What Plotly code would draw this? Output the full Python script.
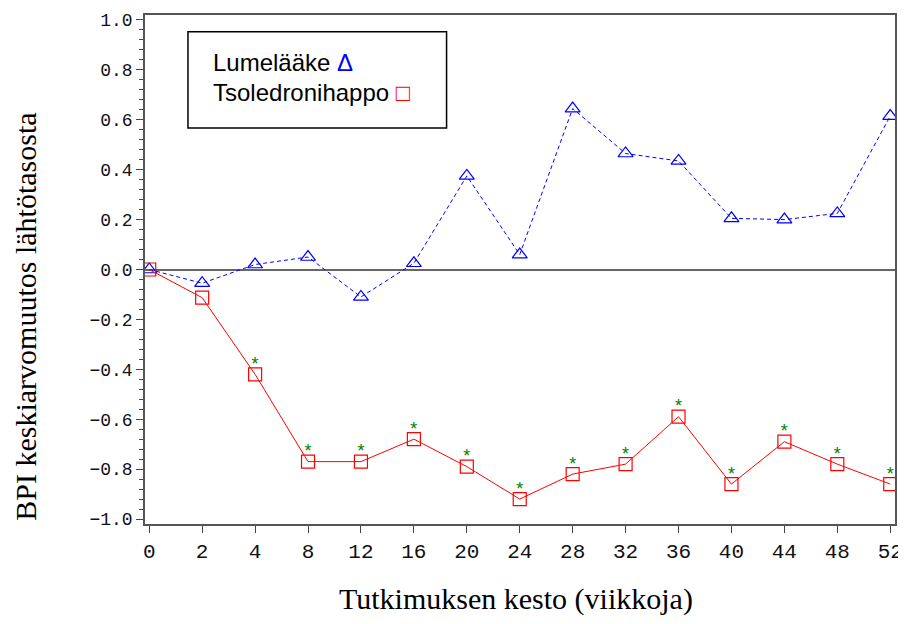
import plotly.graph_objects as go

weeks = ["0", "2", "4", "8", "12", "16", "20", "24", "28", "32", "36", "40", "44", "48", "52"]
placebo = [0.0, -0.055, 0.02, 0.05, -0.11, 0.025, 0.375, 0.06, 0.645, 0.465, 0.435, 0.205, 0.20, 0.225, 0.615]
zoledronic = [0.0, -0.113, -0.42, -0.77, -0.77, -0.68, -0.79, -0.92, -0.82, -0.78, -0.59, -0.86, -0.69, -0.78, -0.86]
significant = [False, False, True, True, True, True, True, True, True, True, True, True, True, True, True]

x_idx = list(range(len(weeks)))

fig = go.Figure()

fig.add_trace(go.Scatter(
    x=x_idx, y=placebo, mode="lines+markers", name="Lumelääke",
    line=dict(color="#0000FF", width=1, dash="4px,3px"),
    marker=dict(symbol="triangle-up-open", size=13, color="#0000FF", line=dict(width=1.2, color="#0000FF")),
))
fig.add_trace(go.Scatter(
    x=x_idx, y=zoledronic, mode="lines+markers", name="Tsoledronihappo",
    line=dict(color="#FF0000", width=1),
    marker=dict(symbol="square-open", size=13, color="#FF0000", line=dict(width=1.2, color="#FF0000")),
))
fig.add_trace(go.Scatter(
    x=[i for i, s in zip(x_idx, significant) if s],
    y=[v for v, s in zip(zoledronic, significant) if s],
    mode="text", text=["*" for s in significant if s],
    textposition="top center",
    textfont=dict(family="Liberation Sans", size=18, color="#008000"),
    hoverinfo="skip",
))

fig.update_layout(
    width=898, height=608,
    margin=dict(l=137, r=10, t=3, b=92),
    plot_bgcolor="white", paper_bgcolor="white",
    showlegend=False,
    xaxis=dict(
        range=[-0.08, 14.09], tickmode="array", tickvals=x_idx, ticktext=weeks,
        showgrid=False, zeroline=False,
        showline=True, linecolor="#555555", linewidth=1.5, mirror=True,
        ticks="outside", ticklen=7, tickwidth=1.2, tickcolor="#444444",
        tickfont=dict(family="Liberation Mono", size=21, color="#111111"),
    ),
    yaxis=dict(
        range=[-1.02, 1.02], tickmode="linear", tick0=-1.0, dtick=0.2, tickformat=".1f",
        showgrid=False,
        zeroline=True, zerolinecolor="#666666", zerolinewidth=1.5,
        showline=True, linecolor="#555555", linewidth=1.5, mirror=True,
        ticks="outside", ticklen=7, tickwidth=1.2, tickcolor="#444444",
        tickfont=dict(family="Liberation Mono", size=18, color="#111111"),
        minor=dict(dtick=0.04, tick0=-1.0, ticks="outside", ticklen=4, tickcolor="#444444", tickwidth=1),
    ),
    shapes=[dict(type="rect", xref="paper", yref="paper",
                 x0=0.0573, x1=0.4021, y0=0.7778, y1=0.9669,
                 line=dict(color="black", width=1.5), fillcolor="white", layer="above")],
    annotations=[
        dict(xref="paper", yref="paper", x=0.0879, y=0.9072, xanchor="left", yanchor="middle",
             text="Lumelääke <span style='color:#0000FF'>Δ</span>", showarrow=False,
             font=dict(family="Liberation Sans", size=24, color="black")),
        dict(xref="paper", yref="paper", x=0.0879, y=0.8468, xanchor="left", yanchor="middle",
             text="Tsoledronihappo <span style='color:#FF0000'>□</span>", showarrow=False,
             font=dict(family="Liberation Sans", size=24, color="black")),
        dict(xref="paper", yref="paper", x=-0.1585, y=0.4074, xanchor="center", yanchor="middle",
             text="BPI keskiarvomuutos lähtötasosta", textangle=-90, showarrow=False,
             font=dict(family="Liberation Serif", size=30, color="black")),
        dict(xref="paper", yref="paper", x=0.4953, y=-0.148, xanchor="center", yanchor="middle",
             text="Tutkimuksen kesto (viikkoja)", showarrow=False,
             font=dict(family="Liberation Serif", size=30, color="black")),
    ],
)

fig.write_html("out.html")
